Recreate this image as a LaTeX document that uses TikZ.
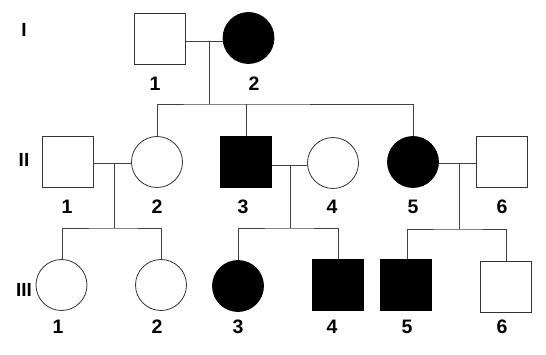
\documentclass[tikz,border=0pt]{standalone}
\usepackage{fontspec}
\setmainfont{Liberation Sans}
\usetikzlibrary{calc}

\tikzset{
  person/.style={draw=black!80, line width=0.8pt, minimum size=51pt, inner sep=0pt, outer sep=0pt},
  male/.style={person, rectangle},
  female/.style={person, circle},
  affected/.style={fill=black, draw=black},
  idlabel/.style={font=\bfseries\fontsize{19.5}{21}\selectfont, inner sep=0pt},
  genlabel/.style={font=\bfseries\fontsize{19}{21}\selectfont, inner sep=0pt},
  link/.style={draw=black!75, line width=0.8pt}
}

\begin{document}
\begin{tikzpicture}[x=1pt,y=-1pt]
  \useasboundingbox (0,0) rectangle (546,355);

  %----------------------------------------
  % Generation labels
  %----------------------------------------
  \node[genlabel] (gI)   at (24,30)  {I};
  \node[genlabel] (gII)  at (24,160) {II};
  \node[genlabel] (gIII) at (24,290) {III};

  %----------------------------------------
  % Generation I
  %----------------------------------------
  \node[male]            (I1) at (160,39)   {};
  \node[female,affected] (I2) at (248.5,38) {};

  \node[idlabel] (nI1) at (155,84) {1};
  \node[idlabel] (nI2) at (254,84) {2};

  %----------------------------------------
  % Generation II
  %----------------------------------------
  \node[male]            (II1) at (67.5,162) {};
  \node[female]          (II2) at (157,162)  {};
  \node[male,affected]   (II3) at (246,162)  {};
  \node[female]          (II4) at (333,163)  {};
  \node[female,affected] (II5) at (413,162)  {};
  \node[male]            (II6) at (501.5,162) {};

  \node[idlabel] (nII1) at (67,207)  {1};
  \node[idlabel] (nII2) at (157,207) {2};
  \node[idlabel] (nII3) at (243,207) {3};
  \node[idlabel] (nII4) at (332,207) {4};
  \node[idlabel] (nII5) at (413,207) {5};
  \node[idlabel] (nII6) at (502,207) {6};

  %----------------------------------------
  % Generation III
  %----------------------------------------
  \node[female]          (III1) at (61.5,285) {};
  \node[female]          (III2) at (161,285)  {};
  \node[female,affected] (III3) at (238,286)  {};
  \node[male,affected]   (III4) at (338,285)  {};
  \node[male,affected]   (III5) at (406,285)  {};
  \node[male]            (III6) at (506,287)  {};

  \node[idlabel] (nIII1) at (58,327)  {1};
  \node[idlabel] (nIII2) at (157,327) {2};
  \node[idlabel] (nIII3) at (238,327) {3};
  \node[idlabel] (nIII4) at (332,327) {4};
  \node[idlabel] (nIII5) at (407,327) {5};
  \node[idlabel] (nIII6) at (502,327) {6};

  %----------------------------------------
  % Family I-1 x I-2
  %----------------------------------------
  \coordinate (mI) at (209,41);
  \coordinate (sI) at (209,104);
  \draw[link] (I1.east |- mI) -- (I2.west |- mI);
  \draw[link] (mI) -- (sI);
  \draw[link] (II2.north) |- (sI) -| (II5.north);
  \draw[link] (II3.north) -- (II3.north |- sI);

  %----------------------------------------
  % Family II-1 x II-2
  %----------------------------------------
  \coordinate (mA) at (114,163);
  \coordinate (sA) at (114,228);
  \draw[link] (II1.east |- mA) -- (II2.west |- mA);
  \draw[link] (mA) -- (sA);
  \draw[link] (III1.north -| 62,0) |- (sA) -| (III2.north);

  %----------------------------------------
  % Family II-3 x II-4
  %----------------------------------------
  \coordinate (mB) at (290,165);
  \coordinate (sB) at (290,228);
  \draw[link] (II3.east |- mB) -- (II4.west |- mB);
  \draw[link] (mB) -- (sB);
  \draw[link] (III3.north) |- (sB) -| (III4.north);

  %----------------------------------------
  % Family II-5 x II-6
  %----------------------------------------
  \coordinate (mC) at (459,163);
  \coordinate (sC) at (459,229);
  \draw[link] (II5.east |- mC) -- (II6.west |- mC);
  \draw[link] (mC) -- (sC);
  \draw[link] (III5.north -| 407,0) |- (sC) -| (III6.north);

\end{tikzpicture}
\end{document}
